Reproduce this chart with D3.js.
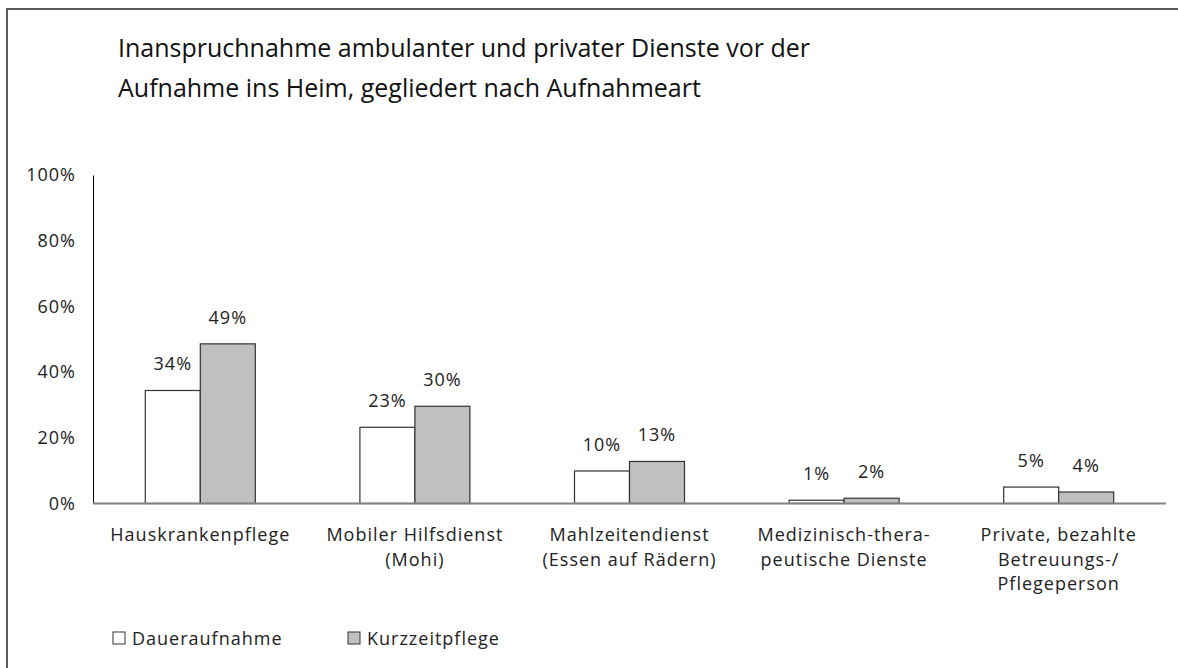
<!DOCTYPE html>
<html lang="de">
  <head>
    <meta charset="utf-8">
    <style type="text/css">
      body { margin: 0; background: white; overflow: hidden; }
      svg { display: block; font-family: "Open Sans", sans-serif; }
      .title { font-size: 25px; fill: #111; }
      .tick-label, .value, .cat, .legend text { font-size: 18px; letter-spacing: 1px; fill: #222; }
    </style>
  </head>
  <body>
    <script src="https://cdn.jsdelivr.net/npm/d3@7"></script>
    <svg id="chart"></svg>

    <script type="text/javascript">
var width = 1178;
var height = 668;

// data
var categories = [
  ["Hauskrankenpflege"],
  ["Mobiler Hilfsdienst", "(Mohi)"],
  ["Mahlzeitendienst", "(Essen auf Rädern)"],
  ["Medizinisch-thera-", "peutische Dienste"],
  ["Private, bezahlte", "Betreuungs-/", "Pflegeperson"]
];
var seriesNames = ["Daueraufnahme", "Kurzzeitpflege"];
var daueraufnahme = [34.4, 23.2, 9.9, 1.0, 5.0];
var kurzzeitpflege = [48.6, 29.6, 12.8, 1.6, 3.5];
var valueLabels = [
  ["34%", "23%", "10%", "1%", "5%"],
  ["49%", "30%", "13%", "2%", "4%"]
];
var yTicks = [0, 20, 40, 60, 80, 100];
var colors = ["#ffffff", "#c0c0c0"];

var svg = d3.select("#chart")
  .attr("width", width)
  .attr("height", height);

// frame (only left and top edges fall inside the picture)
svg.append("path")
  .attr("d", "M7," + height + "V9H" + width)
  .style("fill", "none")
  .style("stroke", "#5a5a5a")
  .style("stroke-width", 2);

svg.append("text")
  .attr("class", "title")
  .attr("x", 118)
  .attr("y", 56.5)
  .text("Inanspruchnahme ambulanter und privater Dienste vor der");
svg.append("text")
  .attr("class", "title")
  .attr("x", 118)
  .attr("y", 96.5)
  .text("Aufnahme ins Heim, gegliedert nach Aufnahmeart");

var x = d3.scaleBand()
  .domain(d3.range(categories.length))
  .range([93, 1166])
  .paddingInner(0.4875)
  .paddingOuter(0.24375);

var xs = d3.scaleBand()
  .domain([0, 1])
  .range([0, x.bandwidth()]);

var y = d3.scaleLinear()
  .domain([0, 100])
  .range([503.5, 175]);

// y axis
var yAxis = svg.append("g")
  .attr("transform", "translate(93,0)")
  .call(d3.axisLeft(y).tickValues(yTicks).tickSize(0).tickPadding(17)
    .tickFormat(function(d) { return d + "%"; }));
yAxis.attr("font-family", null).attr("font-size", null);
yAxis.select(".domain").style("stroke", "#000").style("stroke-width", 1);
yAxis.selectAll(".tick text")
  .attr("class", "tick-label")
  .attr("fill", null);

var series = [daueraufnahme, kurzzeitpflege];

series.forEach(function(values, s) {
  svg.append("g").selectAll("rect")
    .data(values)
    .enter()
    .append("rect")
    .attr("x", function(d, i) { return x(i) + xs(s); })
    .attr("y", function(d) { return y(d); })
    .attr("width", xs.bandwidth())
    .attr("height", function(d) { return y(0) - y(d); })
    .style("fill", colors[s])
    .style("stroke", "#333")
    .style("stroke-width", 1.2);

  svg.append("g").selectAll("text")
    .data(values)
    .enter()
    .append("text")
    .attr("class", "value")
    .attr("x", function(d, i) { return x(i) + xs(s) + xs.bandwidth() / 2; })
    .attr("y", function(d) { return y(d) - 20; })
    .attr("text-anchor", "middle")
    .text(function(d, i) { return valueLabels[s][i]; });
});

// x axis line
svg.append("line")
  .attr("x1", 93)
  .attr("x2", 1166)
  .attr("y1", y(0))
  .attr("y2", y(0))
  .style("stroke", "#808080")
  .style("stroke-width", 2);

// category labels
var cats = svg.append("g").selectAll("text")
  .data(categories)
  .enter()
  .append("text")
  .attr("class", "cat")
  .attr("text-anchor", "middle")
  .attr("x", function(d, i) { return x(i) + x.bandwidth() / 2; })
  .attr("y", 541);
cats.selectAll("tspan")
  .data(function(d) { return d; })
  .enter()
  .append("tspan")
  .attr("x", function() { return d3.select(this.parentNode).attr("x"); })
  .attr("dy", function(d, i) { return i === 0 ? 0 : 24.5; })
  .text(function(d) { return d; });

// legend
var legendX = [113, 348];
var legend = svg.append("g").attr("class", "legend");
var items = legend.selectAll("g")
  .data(seriesNames)
  .enter()
  .append("g")
  .attr("transform", function(d, i) { return "translate(" + legendX[i] + ",632)"; });
items.append("rect")
  .attr("width", 12)
  .attr("height", 12)
  .style("fill", function(d, i) { return colors[i]; })
  .style("stroke", "#333")
  .style("stroke-width", 1);
items.append("text")
  .attr("x", 19)
  .attr("y", 13)
  .text(function(d) { return d; });
    </script>
  </body>
</html>
